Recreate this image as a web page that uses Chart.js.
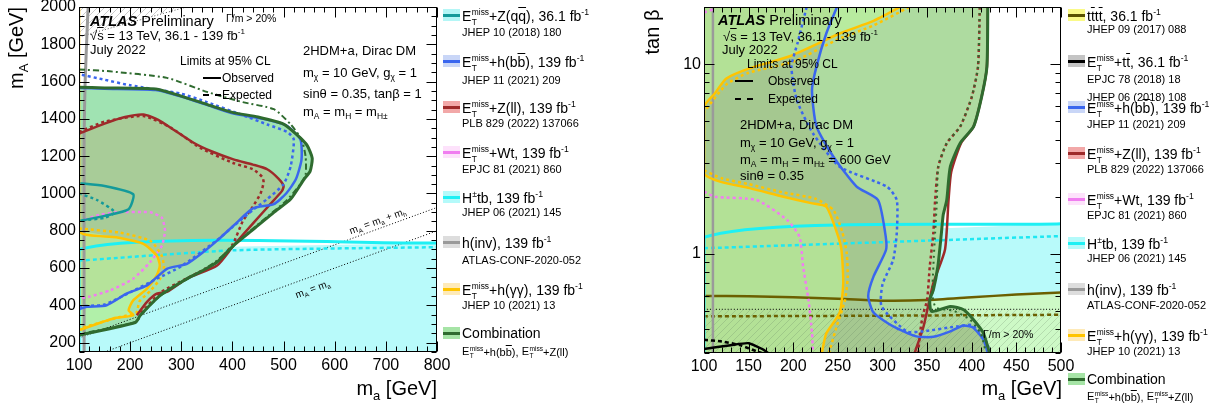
<!DOCTYPE html>
<html>
<head>
<meta charset="utf-8">
<script src="https://cdn.jsdelivr.net/npm/chart.js@4.4.1/dist/chart.umd.min.js"></script>
<style>
body{margin:0;background:#fff;width:1213px;height:407px;position:relative;overflow:hidden;font-family:'Liberation Sans',Arial,Helvetica,sans-serif;color:#000}
canvas{position:absolute;top:0}
.t{position:absolute;white-space:nowrap;line-height:1}
.sp{font-size:0.62em;vertical-align:0.7em}
.sb{font-size:0.65em;vertical-align:-0.35em}
.ss{display:inline-block;font-size:0.6em;line-height:1.15;vertical-align:-0.45em;margin-left:0.5px}
.ss span{display:block}
.ov{text-decoration:overline}
</style>
</head>
<body>
<canvas id="left" width="455" height="407" style="left:0"></canvas>
<canvas id="right" width="440" height="407" style="left:640px"></canvas>
<script>
const FONT = "'Liberation Sans', Arial, Helvetica, sans-serif";
Chart.defaults.font.family = FONT;
Chart.defaults.color = '#000';

// ---------- left panel: (m_a, m_A), tan beta = 1 ----------
const xTicksL = [100, 200, 300, 400, 500, 600, 700, 800];
const yTicksL = [200, 400, 600, 800, 1000, 1200, 1400, 1600, 1800, 2000];

const combObsA = [[100,1570],[150,1566],[250,1560],[300,1522],[350,1478],[400,1435],[450,1410],[500,1372],[528,1310],[546,1258],[556,1190],[552,1120],[540,1076],[514,970],[481,899],[442,810],[402,720],[370,632],[337,579],[311,543],[259,454],[220,347],[210,308],[100,240]];
const combExpA = [[100,1665],[160,1655],[272,1620],[350,1545],[420,1490],[481,1452],[514,1370],[535,1290],[543,1200],[543,1100],[530,1040],[505,960],[470,880],[435,800],[400,715],[365,630],[311,540],[258,450],[222,352],[212,312],[100,245]];
const redObsA = [[100,1321],[150,1375],[190,1410],[226,1423],[255,1395],[285,1342],[324,1272],[360,1225],[402,1183],[440,1155],[468,1130],[490,1080],[500,1041],[497,1014],[474,943],[442,845],[402,720],[370,614],[311,543],[272,472],[252,463],[233,419],[213,347]];
const redExpA = [[100,1330],[150,1385],[226,1415],[280,1352],[337,1245],[400,1165],[440,1130],[458,1090],[461,1060],[455,1000],[440,930],[420,850],[400,725],[368,630],[311,545],[260,470],[218,350]];
const blueObsA = [[100,380],[115,392],[154,401],[193,463],[233,507],[272,596],[311,623],[345,690],[370,747],[402,827],[440,920],[481,943],[505,1000],[524,1076],[535,1180],[533,1290],[505,1365],[460,1400],[400,1430],[350,1475],[300,1520],[250,1555],[150,1562],[100,1566]];
const blueExpA = [[100,395],[150,405],[200,470],[250,540],[300,610],[370,750],[400,820],[442,916],[468,970],[500,1050],[514,1147],[520,1290],[507,1330],[468,1370],[420,1420],[350,1490],[300,1535],[200,1580],[150,1610],[100,1640]];
const tealObsA = [[100,1055],[150,1040],[206,996],[197,916],[150,880],[105,855],[100,855]];
const tealExpA = [[100,1000],[135,965],[170,900],[150,870],[110,857]];
const pinkExpA = [[100,850],[140,885],[175,899],[239,899],[262,870],[268,800],[262,720],[239,632],[206,543],[161,481],[118,445],[100,440]];
const yelObsA = [[100,2000],[100,801],[173,765],[226,730],[252,667],[258,614],[252,561],[233,490],[206,427],[197,374],[206,347],[167,330],[100,267]];
const yelExpA = [[100,812],[180,790],[240,745],[262,665],[266,600],[258,540],[240,480],[218,420],[212,360],[180,338],[100,275]];
const hinvA = [[110,150],[110,1300],[112,1600],[117,1950],[118,2000]];
const hpmObsA = [[100,150],[100,699],[800,735]];
const hpmExpA = [[100,640],[400,695],[800,712]];
const diagMhA = [[100,225],[800,925]];   // m_A = m_a + m_h
const diagA = [[150,150],[800,800]];     // m_A = m_a
const widthA = [[100,1840],[310,2000]];  // Gamma/m > 20% boundary

// ---------- right panel: (m_a, tan beta), m_A = 600 GeV ----------
const xTicksR = [100, 150, 200, 250, 300, 350, 400, 450, 500];
const yTicksR = [1, 10];

const combObsB = [[418,20],[417,9.7],[411,6.7],[402,4.68],[387,3.83],[376,2.88],[372,1.92],[368,1.6],[366,1.285],[362,0.857],[357,0.646],[353,0.573],[355,0.497],[376,0.528],[391,0.507],[402,0.449],[413,0.382],[420,0.3]];
const combExpB = [[409,20],[407,9.7],[400,6.7],[387,4.68],[372,3.83],[362.5,2.88],[361,1.92],[359,1.3],[357,0.86],[356,0.6],[360,0.52],[380,0.5],[398,0.45],[410,0.38],[416,0.3]];
const redObsB = [[418,20],[417,9.7],[411,6.7],[402,4.68],[388,3.83],[377,2.7],[374,1.92],[370,1.05],[357,0.7],[346,0.414],[336,0.3]];
const redExpB = [[409,20],[407,9.7],[400,6.7],[387,4.68],[372,3.83],[362.5,2.88],[359,1.92],[357,1.29],[353,0.86],[350,0.573],[345,0.47],[342,0.38],[340,0.3]];
const blueObsB = [[249,20],[237,14.5],[226,9.7],[221,7.3],[226,4.7],[245,3.25],[271,2.26],[295,1.92],[303,1.29],[304,1.05],[290,0.76],[284,0.6],[290,0.49],[312,0.414],[338,0.367],[357,0.365],[376,0.39],[390,0.418],[401,0.41],[413,0.353],[418,0.3]];
const blueExpB = [[215,20],[205,13],[198,9.7],[204,6.46],[222,4.32],[252,2.88],[305,2.26],[316,1.92],[316,1.29],[312,0.93],[300,0.69],[299,0.528],[327,0.39],[345,0.39],[383,0.414],[401,0.42],[417,0.34],[420,0.3]];
const yelObsB = [[320,20],[290,16.9],[252,14.5],[196,11.0],[151,9.5],[125,8.4],[112,7.0],[100,5.96],[100,2.66],[118,2.4],[151,2.22],[189,2.0],[220,1.85],[237,1.77],[249,1.29],[254,1.05],[256,0.7],[252,0.49],[237,0.38],[232,0.3]];
const yelExpUpB = [[330,20],[290,16],[250,13.5],[200,10.3],[150,9.0],[125,7.8],[100,5.6]];
const yelExpLoB = [[100,2.75],[120,2.5],[150,2.33],[190,2.1],[225,1.95],[245,1.7],[255,1.3],[260,1.0],[261,0.75],[258,0.57],[249,0.42],[240,0.3]];
const pinkExpUpB = [[100,18.7],[112,19.6]];
const pinkExpLoB = [[100,2.13],[112,2.0],[159,1.92],[193,1.51],[207,1.23],[211,0.86],[217,0.573],[221,0.383],[222,0.3]];
const hinvB = [[110,0.3],[110,20]];
const hpmObsB = [[100,0.3],[100,1.22],[500,1.44]];
const hpmExpB = [[100,1.07],[500,1.24]];
const ttttObsB = [[100,0.6],[150,0.598],[250,0.58],[300,0.566],[350,0.57],[400,0.59],[450,0.61],[500,0.625]];
const ttttExpB = [[100,0.468],[300,0.472],[500,0.477]];
const ttObsB = [[100,0.315],[130,0.33],[150,0.338],[165,0.315],[172,0.3]];
const ttExpB = [[100,0.352],[120,0.345],[140,0.33],[160,0.305],[165,0.3]];
const widthB = [[100,0.51],[500,0.51]];

// ---------- helpers ----------
const pts = arr => arr.map(([x, y]) => ({x, y}));

function hatch(color) {
  const c = document.createElement('canvas');
  c.width = c.height = 7;
  const g = c.getContext('2d');
  g.strokeStyle = color; g.lineWidth = 1;
  g.beginPath();
  g.moveTo(0, 7); g.lineTo(7, 0);
  g.moveTo(-1, 1); g.lineTo(1, -1);
  g.moveTo(6, 8); g.lineTo(8, 6);
  g.stroke();
  return g.createPattern(c, 'repeat');
}

function line(pairs, color, width, dash) {
  return {data: pts(pairs), borderColor: color, borderWidth: width, borderDash: dash || [],
          pointRadius: 0, fill: false, tension: 0.2};
}
// area: filled closed contour; "within" clips it to another area (overlap of two regions)
function area(pairs, style, key, within) {
  return {data: pts(pairs), area: style, key, within, showLine: false, pointRadius: 0};
}

const polyFill = {
  id: 'polyFill',
  beforeDatasetsDraw(chart) {
    const {ctx, chartArea: a} = chart;
    const sets = chart.data.datasets;
    const trace = i => {
      ctx.beginPath();
      chart.getDatasetMeta(i).data.forEach((q, k) => k ? ctx.lineTo(q.x, q.y) : ctx.moveTo(q.x, q.y));
      ctx.closePath();
    };
    sets.forEach((ds, i) => {
      if (!ds.area) return;
      ctx.save();
      ctx.beginPath(); ctx.rect(a.left, a.top, a.width, a.height); ctx.clip();
      if (ds.within) {
        trace(sets.findIndex(d => d.key === ds.within));
        ctx.clip();
      }
      trace(i);
      ctx.fillStyle = ds.area;
      ctx.fill();
      ctx.restore();
    });
  }
};

// ATLAS-style frame with inward ticks on all four sides
const frame = {
  id: 'frame',
  afterDatasetsDraw(chart, args, o) {
    const {ctx, chartArea: a, scales: {x, y}} = chart;
    const L = Math.round(a.left) + 0.5, R = Math.round(a.right) - 0.5;
    const T = Math.round(a.top) + 0.5, B = Math.round(a.bottom) - 0.5;
    ctx.save();
    ctx.strokeStyle = '#000'; ctx.lineWidth = 1;
    ctx.strokeRect(L, T, R - L, B - T);
    ctx.beginPath();
    const tx = (v, n) => { const p = Math.round(x.getPixelForValue(v)) + 0.5;
      ctx.moveTo(p, B); ctx.lineTo(p, B - n); ctx.moveTo(p, T); ctx.lineTo(p, T + n); };
    const ty = (v, n) => { const p = Math.round(y.getPixelForValue(v)) + 0.5;
      ctx.moveTo(L, p); ctx.lineTo(L + n, p); ctx.moveTo(R, p); ctx.lineTo(R - n, p); };
    o.xMajor.forEach(v => tx(v, 10)); o.xMinor.forEach(v => tx(v, 5));
    o.yMajor.forEach(v => ty(v, 10)); o.yMinor.forEach(v => ty(v, 5));
    ctx.stroke();
    ctx.restore();
  }
};

function steps(a, b, d, skip) {
  const out = [];
  for (let v = a; v <= b + 1e-9; v += d) if (!skip.includes(v)) out.push(v);
  return out;
}

function makeChart(id, datasets, sx, sy, yw, xh, padRight, ticks) {
  datasets.forEach((d, i) => { d.order = -i; });
  return new Chart(document.getElementById(id), {
    type: 'line',
    data: {datasets},
    plugins: [polyFill, frame],
    options: {
      responsive: false, animation: false,
      layout: {padding: {top: 7, right: padRight, left: 0, bottom: 0}},
      plugins: {legend: {display: false}, tooltip: {enabled: false}, frame: ticks},
      scales: {
        x: Object.assign({
          grid: {display: false, drawTicks: false}, border: {display: false},
          ticks: {font: {size: 16}, padding: 4, maxRotation: 0, autoSkip: false, callback: v => String(v)},
          afterFit: s => { s.height = xh; s.paddingLeft = 0; s.paddingRight = 0; }
        }, sx),
        y: Object.assign({
          grid: {display: false, drawTicks: false}, border: {display: false},
          ticks: {font: {size: 16}, padding: 3, autoSkip: false, callback: v => String(v)},
          afterFit: s => { s.width = yw; s.paddingTop = 0; s.paddingBottom = 0; }
        }, sy)
      }
    }
  });
}

// ---------- left chart ----------
const hatchL = hatch('rgba(110,110,110,0.35)');
const dsL = [
  area([...hpmObsA, [800,150]], '#b8fafa'),
  area(combObsA, '#a0e3b2'),
  area(blueObsA, 'rgba(0,0,0,0)', 'blue'),
  area([...redObsA, [100,225]], 'rgba(192,135,74,0.25)', 'red', 'blue'),
  area(yelObsA.slice(1), 'rgba(198,255,158,0.45)'),
  area([...widthA, [100,2000]], hatchL),
  line(diagMhA, '#000', 1, [1, 2]),
  line(diagA, '#000', 1, [1, 2]),
  line(widthA, '#555', 1, [1, 2]),
  line(hpmExpA, '#1ee8f2', 2.5, [4, 3]),
  line(hpmObsA, '#1ef0f4', 3),
  line(hinvA, '#9a9a9a', 3),
  line(pinkExpA, '#f07ef0', 2.5, [3, 3]),
  line(tealExpA, '#149a9a', 2.5, [3, 3]),
  line(tealObsA, '#149a9a', 2.5),
  line(yelExpA, '#ffc400', 2.5, [3, 3]),
  line(yelObsA, '#ffc400', 2.5),
  line(redExpA, '#9e2a2a', 2.5, [3, 3]),
  line(redObsA, '#9e2a2a', 2.5),
  line(blueExpA, '#3a66ee', 2.5, [3, 3]),
  line(blueObsA, '#3a66ee', 2.5),
  line(combExpA, '#2f6b2f', 2, [6, 3, 2, 3]),
  line(combObsA, '#2f6b2f', 3)
];
makeChart('left', dsL,
  {type: 'linear', min: 100, max: 800, afterBuildTicks: s => { s.ticks = xTicksL.map(v => ({value: v})); }},
  {type: 'linear', min: 150, max: 2000, afterBuildTicks: s => { s.ticks = yTicksL.map(v => ({value: v})); }},
  79, 55, 18,
  {xMajor: xTicksL, xMinor: steps(100, 800, 20, xTicksL), yMajor: yTicksL, yMinor: steps(150, 2000, 50, yTicksL)});

// ---------- right chart ----------
const hatchR = hatch('rgba(90,120,90,0.22)');
const dsR = [
  area([...hpmObsB, [500,0.3]], '#b8fafa'),
  area([[100,0.3], ...ttttObsB, [500,0.3]], 'rgba(255,250,80,0.3)'),
  area([[100,0.3], [100,20], ...combObsB], '#aedba0'),
  area([[100,0.3], [100,20], ...blueObsB], 'rgba(129,124,80,0.2)'),
  area([[100,20], ...yelObsB.slice(0, 8)], 'rgba(198,255,158,0.45)'),
  area([...yelObsB.slice(8), [100,0.3]], 'rgba(198,255,158,0.45)'),
  area([[100,0.3], ...widthB, [500,0.3]], hatchR),
  line(widthB, '#000', 1, [1, 2]),
  line(ttttExpB, '#6b5f00', 2.5, [4, 3]),
  line(ttttObsB, '#6b5f00', 2.5),
  line(hpmExpB, '#1ee8f2', 2.5, [4, 3]),
  line(hpmObsB, '#1ef0f4', 3),
  line(hinvB, '#9a9a9a', 2.5),
  line(pinkExpUpB, '#f07ef0', 2.5, [3, 3]),
  line(pinkExpLoB, '#f07ef0', 2.5, [3, 3]),
  line(ttExpB, '#000', 2.5, [4, 3]),
  line(ttObsB, '#000', 2.5),
  line(yelExpUpB, '#ffc400', 2.5, [3, 3]),
  line(yelExpLoB, '#ffc400', 2.5, [3, 3]),
  line(yelObsB, '#ffc400', 2.5),
  line(redExpB, '#9e2a2a', 2.5, [3, 3]),
  line(redObsB, '#9e2a2a', 2.5),
  line(blueExpB, '#3a66ee', 2.5, [3, 3]),
  line(blueObsB, '#3a66ee', 2.5),
  line(combExpB, '#2f6b2f', 2, [2, 4]),
  line(combObsB, '#2f6b2f', 3)
];
const logMinor = [0.3, 0.4, 0.5, 0.6, 0.7, 0.8, 0.9, 2, 3, 4, 5, 6, 7, 8, 9, 20];
makeChart('right', dsR,
  {type: 'linear', min: 100, max: 500, afterBuildTicks: s => { s.ticks = xTicksR.map(v => ({value: v})); }},
  {type: 'logarithmic', min: 0.3, max: 20, afterBuildTicks: s => { s.ticks = yTicksR.map(v => ({value: v})); }},
  64, 54, 19,
  {xMajor: xTicksR, xMinor: steps(100, 500, 10, xTicksR), yMajor: yTicksR, yMinor: logMinor});

// ---------- text ----------
const ETM = '<span>E<span class="ss"><span>miss</span><span>T</span></span></span>';
const INV = '<span class="sp">-1</span>';
const ov = s => '<span class="ov">' + s + '</span>';
const sb = s => '<span class="sb">' + s + '</span>';
const sp = s => '<span class="sp">' + s + '</span>';

function put(html, x, cy, size, extra) {
  const d = document.createElement('div');
  d.className = 't';
  d.innerHTML = html;
  d.style.left = x + 'px';
  d.style.top = (cy - size / 2) + 'px';
  d.style.fontSize = size + 'px';
  if (extra) Object.assign(d.style, extra);
  document.body.appendChild(d);
  return d;
}
const centred = (html, cx, cy, size, rot) => put(html, cx, cy, size,
  {top: cy + 'px', transform: 'translate(-50%,-50%) rotate(' + rot + 'deg)'});
const seg = (x, y, dashed) => {
  const d = document.createElement('div');
  d.style.cssText = 'position:absolute;left:' + x + 'px;top:' + (y - 1) + 'px;width:18px;height:0;border-top:2px ' + (dashed ? 'dashed' : 'solid') + ' #000';
  document.body.appendChild(d);
};

const ATLAS = '<b><i>ATLAS</i></b> Preliminary';
const SQRTS = '√' + ov('s') + ' = 13 TeV, 36.1 - 139 fb' + INV;

// left panel annotations
put(ATLAS, 90, 21, 14.5);
put(SQRTS, 90, 34, 13);
put('July 2022', 90, 49, 13);
put('Γ/m &gt; 20%', 226, 18, 10.5);
put('Limits at 95% CL', 180, 61, 12);
seg(203, 78, false); put('Observed', 222, 78, 12);
seg(203, 95, true); put('Expected', 222, 95, 12);
put('2HDM+a, Dirac DM', 303, 50, 13);
put('m' + sb('χ') + ' = 10 GeV, g' + sb('χ') + ' = 1', 303, 72, 13);
put('sinθ = 0.35, tanβ = 1', 303, 93, 13);
put('m' + sb('A') + ' = m' + sb('H') + ' = m' + sb('H±'), 303, 111, 13);
centred('m' + sb('A') + ' = m' + sb('a') + ' + m' + sb('h'), 378, 222, 10, -20);
centred('m' + sb('A') + ' = m' + sb('a'), 313, 290, 10, -20);
centred('m' + sb('A') + ' [GeV]', 18, 48, 20, -90);
put('m' + sb('a') + ' [GeV]', 0, 388, 20, {left: 'auto', right: (1213 - 437) + 'px'});

// right panel annotations
put(ATLAS, 718, 20, 14.5);
put(SQRTS, 723, 35, 13);
put('July 2022', 722, 49, 13);
put('Limits at 95% CL', 747, 64, 12);
seg(735, 81, false); put('Observed', 768, 81, 12);
seg(735, 99, true); put('Expected', 768, 99, 12);
put('2HDM+a, Dirac DM', 740, 124, 13);
put('m' + sb('χ') + ' = 10 GeV, g' + sb('χ') + ' = 1', 740, 142, 13);
put('m' + sb('A') + ' = m' + sb('H') + ' = m' + sb('H±') + ' = 600 GeV', 740, 159, 13);
put('sinθ = 0.35', 740, 175, 13);
put('Γ/m &gt; 20%', 983, 334, 10.5);
centred('tan β', 652, 32, 20, -90);
put('m' + sb('a') + ' [GeV]', 0, 388, 20, {left: 'auto', right: (1213 - 1062) + 'px'});

// legends
function legend(x0, items) {
  items.forEach(it => {
    const band = document.createElement('div');
    band.style.cssText = 'position:absolute;left:' + x0 + 'px;top:' + (it.y - 6) + 'px;width:17px;height:12px;background:' + it.band;
    const ln = document.createElement('div');
    ln.style.cssText = 'position:absolute;left:0;top:4.5px;width:17px;height:3px;background:' + it.line;
    band.appendChild(ln);
    document.body.appendChild(band);
    put(it.text, x0 + 19, it.y, 14);
    it.refs.forEach(([txt, y]) => put(txt, x0 + 19, y, 11));
  });
}
const BB = ETM + '+h(b' + ov('b') + '), 139 fb' + INV;
const ZLL = ETM + '+Z(ll), 139 fb' + INV;
const WT = ETM + '+Wt, 139 fb' + INV;
const HTB = 'H' + sp('±') + 'tb, 139 fb' + INV;
const HINV = 'h(inv), 139 fb' + INV;
const GG = ETM + '+h(γγ), 139 fb' + INV;
const COMBREF = ETM + '+h(b' + ov('b') + '), ' + ETM + '+Z(ll)';

legend(443, [
  {y: 15, band: '#b4f6f6', line: '#149a9a', text: ETM + '+Z(q' + ov('q') + '), 36.1 fb' + INV, refs: [['JHEP 10 (2018) 180', 32]]},
  {y: 61, band: '#c9d6f7', line: '#3a66ee', text: BB, refs: [['JHEP 11 (2021) 209', 80]]},
  {y: 107, band: '#f2a8a8', line: '#9e2a2a', text: ZLL, refs: [['PLB 829 (2022) 137066', 123]]},
  {y: 152, band: '#fde2fb', line: '#f07ef0', text: WT, refs: [['EPJC 81 (2021) 860', 169]]},
  {y: 197, band: '#b4fafa', line: '#1ef0f4', text: HTB, refs: [['JHEP 06 (2021) 145', 212]]},
  {y: 242, band: '#dddddd', line: '#9a9a9a', text: HINV, refs: [['ATLAS-CONF-2020-052', 260]]},
  {y: 289, band: '#feeab8', line: '#ffc400', text: GG, refs: [['JHEP 10 (2021) 13', 305]]},
  {y: 333, band: '#a6e4a6', line: '#2f6b2f', text: 'Combination', refs: [[COMBREF, 350]]}
]);
legend(1068, [
  {y: 15, band: '#fafa88', line: '#5a5200', text: 't' + ov('t') + 't' + ov('t') + ', 36.1 fb' + INV, refs: [['JHEP 09 (2017) 088', 29]]},
  {y: 61, band: '#c4c4c4', line: '#000', text: ETM + '+t' + ov('t') + ', 36.1 fb' + INV, refs: [['EPJC 78 (2018) 18', 79], ['JHEP 06 (2018) 108', 97]]},
  {y: 107, band: '#c9d6f7', line: '#3a66ee', text: BB, refs: [['JHEP 11 (2021) 209', 124]]},
  {y: 153, band: '#f2a8a8', line: '#9e2a2a', text: ZLL, refs: [['PLB 829 (2022) 137066', 169]]},
  {y: 199, band: '#fde2fb', line: '#f07ef0', text: WT, refs: [['EPJC 81 (2021) 860', 215]]},
  {y: 243, band: '#b4fafa', line: '#1ef0f4', text: HTB, refs: [['JHEP 06 (2021) 145', 258]]},
  {y: 289, band: '#dddddd', line: '#9a9a9a', text: HINV, refs: [['ATLAS-CONF-2020-052', 305]]},
  {y: 335, band: '#feeab8', line: '#ffc400', text: GG, refs: [['JHEP 10 (2021) 13', 351]]},
  {y: 379, band: '#a6e4a6', line: '#2f6b2f', text: 'Combination', refs: [[COMBREF, 395]]}
]);
</script>
</body>
</html>
